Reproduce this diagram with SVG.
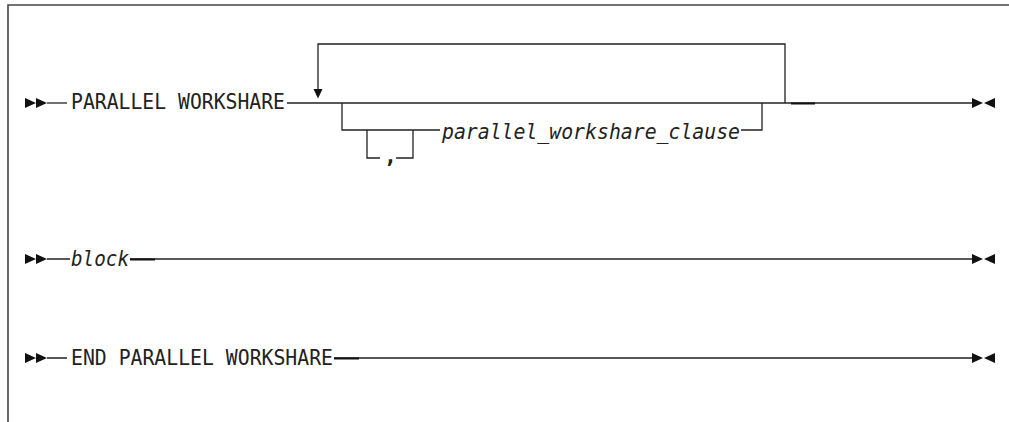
<svg xmlns="http://www.w3.org/2000/svg" width="1009" height="422" viewBox="0 0 1009 422">
<defs>
<style>
.ln{stroke:#222;stroke-width:1.3;fill:none}
.dash{stroke:#111;stroke-width:2;fill:none}
.bd{stroke:#444;stroke-width:1.6;fill:none}
.t{font-family:"DejaVu Sans Mono","Liberation Mono",monospace;font-size:21.5px;fill:#222}
.i{font-style:italic}
.cm{font-weight:bold}
.ah{fill:#111}
</style>
<g id="startArrows"><path class="ah" d="M0,-5 L11,0 L0,5Z M11,-5 L22,0 L11,5Z"/></g>
<g id="endArrows"><path class="ah" d="M0,-5 L11,0 L0,5Z M23,-5 L12,0 L23,5Z"/></g>
</defs>
<rect width="1009" height="422" fill="#fff"/>
<path class="bd" d="M8,422 V5 H1009"/>

<g id="connectors">
  <!-- row 1 -->
  <path class="ln" d="M47,103 H67"/>
  <path class="ln" d="M287,103 H972"/>
  <path class="ln" d="M785,103 V44 H318 V90"/>
  <path class="ah" d="M313.5,89 L322.5,89 L318,98.5Z"/>
  <path class="ln" d="M342,103 V130 H440"/>
  <path class="ln" d="M367,130 V158 H380 M396,158 H413 V130"/>
  <path class="ln" d="M741,130 H762 V103"/>
  <path class="dash" d="M791,103.5 H815"/>
  <!-- row 2 -->
  <path class="ln" d="M47,259 H70 M130,259 H972"/>
  <path class="dash" d="M130,259.5 H155"/>
  <!-- row 3 -->
  <path class="ln" d="M47,358 H67 M334,358 H972"/>
  <path class="dash" d="M334,358.5 H359"/>
</g>

<g id="row1-start"><use href="#startArrows" x="25" y="103"/></g>
<g id="node-parallel-workshare"><text class="t" x="71" y="109" textLength="214" lengthAdjust="spacingAndGlyphs">PARALLEL WORKSHARE</text></g>
<g id="node-comma"><text class="t cm" x="384" y="163">,</text></g>
<g id="node-clause"><text class="t i" x="442" y="139" textLength="298" lengthAdjust="spacingAndGlyphs">parallel_workshare_clause</text></g>
<g id="row1-end"><use href="#endArrows" x="972" y="103"/></g>

<g id="row2-start"><use href="#startArrows" x="25" y="259"/></g>
<g id="node-block"><text class="t i" x="71" y="266" textLength="58" lengthAdjust="spacingAndGlyphs">block</text></g>
<g id="row2-end"><use href="#endArrows" x="972" y="259"/></g>

<g id="row3-start"><use href="#startArrows" x="25" y="358"/></g>
<g id="node-end-parallel-workshare"><text class="t" x="71" y="365" textLength="262" lengthAdjust="spacingAndGlyphs">END PARALLEL WORKSHARE</text></g>
<g id="row3-end"><use href="#endArrows" x="972" y="358"/></g>
</svg>
